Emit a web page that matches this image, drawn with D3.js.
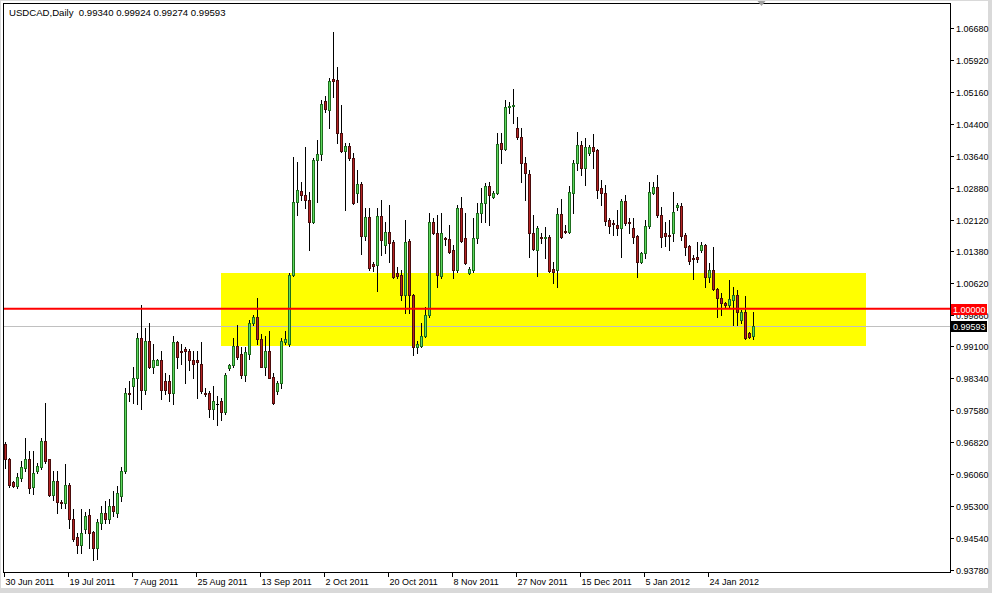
<!DOCTYPE html>
<html><head><meta charset="utf-8">
<script src="https://cdn.jsdelivr.net/npm/d3@7"></script>
<style>
body{margin:0;background:#fff}
svg{display:block}
text{font-family:"Liberation Sans",Arial,sans-serif;font-size:9px;fill:#000}
</style></head>
<body><svg id="chart" width="992" height="593"></svg>
<script>
// ---------------- data ----------------
const symbolTitle = "USDCAD,Daily";
const firstDate = "2011-06-30";
const closedDays = ["2011-12-25", "2012-01-01"];   // Saturdays are also absent
const visibleSlots = 237;                          // bars that fit the window incl. empty future space

const open = [
0.9679,0.9641,0.9588,0.9579,0.9598,0.9621,0.9643,0.9576,0.9614,0.9624,
0.9686,0.9641,0.9557,0.9590,0.9540,0.9538,0.9581,0.9500,0.9457,0.9438,
0.9476,0.9509,0.9469,0.9431,0.9490,0.9514,0.9500,0.9531,0.9514,0.9555,
0.9614,0.9800,0.9817,0.9834,0.9929,0.9807,0.9924,0.9860,0.9867,0.9879,
0.9829,0.9829,0.9800,0.9920,0.9900,0.9903,0.9900,0.9877,0.9879,0.9869,
0.9800,0.9800,0.9762,0.9774,0.9781,0.9753,0.9858,0.9867,0.9910,0.9893,
0.9841,0.9893,0.9965,0.9979,0.9927,0.9862,0.9900,0.9838,0.9805,0.9822,
0.9920,0.9917,1.0079,1.0253,1.0280,1.0270,1.0258,1.0206,1.0354,1.0368,
1.0494,1.0473,1.0547,1.0544,1.0418,1.0375,1.0387,1.0358,1.0275,1.0296,
1.0172,1.0217,1.0106,1.0103,1.0220,1.0151,1.0182,1.0158,1.0084,1.0079,
1.0032,1.0160,1.0032,0.9908,0.9910,0.9934,0.9986,1.0206,1.0180,1.0077,
1.0168,1.0165,1.0139,1.0092,1.0239,1.0168,1.0084,1.0092,1.0168,1.0227,
1.0251,1.0292,1.0265,1.0275,1.0394,1.0380,1.0480,1.0482,1.0431,1.0408,
1.0346,1.0320,1.0180,1.0139,1.0170,1.0168,1.0170,1.0094,1.0092,1.0225,
1.0184,1.0182,1.0275,1.0346,1.0389,1.0334,1.0370,1.0384,1.0377,1.0287,
1.0275,1.0211,1.0203,1.0198,1.0191,1.0256,1.0206,1.0191,1.0172,1.0110,
1.0132,1.0196,1.0275,1.0290,1.0222,1.0180,1.0175,1.0180,1.0241,1.0244,
1.0175,1.0148,1.0120,1.0122,1.0139,1.0151,1.0075,1.0092,1.0046,1.0025,
1.0013,1.0008,1.0020,1.0032,0.9972,0.9993,0.9941,0.99340];

const high = [
0.9683,0.9645,0.9590,0.9610,0.9638,0.9691,0.9662,0.9662,0.9633,0.9691,
0.9776,0.9643,0.9614,0.9614,0.9545,0.9631,0.9586,0.9524,0.9467,0.9524,
0.9517,0.9524,0.9471,0.9500,0.9531,0.9543,0.9548,0.9567,0.9579,0.9624,
0.9812,0.9829,0.9860,0.9941,1.0008,0.9953,0.9967,0.9917,0.9881,0.9900,
0.9848,0.9841,0.9936,0.9924,0.9917,0.9908,0.9905,0.9900,0.9900,0.9920,
0.9812,0.9805,0.9817,0.9793,0.9788,0.9848,0.9869,0.9931,0.9962,0.9908,
0.9908,0.9972,0.9984,1.0025,0.9939,0.9936,0.9948,0.9848,0.9829,0.9929,
0.9948,1.0086,1.0361,1.0349,1.0301,1.0384,1.0277,1.0358,1.0401,1.0496,
1.0506,1.0549,1.0659,1.0575,1.0485,1.0394,1.0394,1.0370,1.0330,1.0301,
1.0239,1.0239,1.0110,1.0239,1.0258,1.0206,1.0246,1.0163,1.0098,1.0092,
1.0211,1.0165,1.0034,0.9924,0.9967,1.0003,1.0227,1.0215,1.0222,1.0227,
1.0170,1.0198,1.0151,1.0246,1.0265,1.0227,1.0098,1.0215,1.0251,1.0287,
1.0298,1.0301,1.0280,1.0418,1.0418,1.0496,1.0492,1.0523,1.0456,1.0431,
1.0361,1.0330,1.0222,1.0196,1.0180,1.0194,1.0175,1.0110,1.0239,1.0260,
1.0198,1.0292,1.0354,1.0420,1.0398,1.0406,1.0389,1.0415,1.0380,1.0306,
1.0294,1.0215,1.0211,1.0234,1.0260,1.0270,1.0215,1.0215,1.0175,1.0134,
1.0211,1.0301,1.0301,1.0318,1.0241,1.0206,1.0211,1.0277,1.0251,1.0251,
1.0180,1.0151,1.0127,1.0158,1.0158,1.0153,1.0108,1.0146,1.0049,1.0037,
1.0015,1.0068,1.0051,1.0044,0.9996,1.0030,0.9944,0.99924];

const low = [
0.9621,0.9576,0.9576,0.9574,0.9590,0.9614,0.9562,0.9560,0.9610,0.9619,
0.9633,0.9555,0.9545,0.9514,0.9526,0.9526,0.9478,0.9448,0.9419,0.9419,
0.9467,0.9431,0.9402,0.9405,0.9476,0.9490,0.9490,0.9507,0.9505,0.9543,
0.9610,0.9781,0.9776,0.9774,0.9762,0.9798,0.9858,0.9846,0.9865,0.9786,
0.9798,0.9781,0.9774,0.9858,0.9869,0.9824,0.9853,0.9834,0.9788,0.9800,
0.9793,0.9741,0.9738,0.9722,0.9734,0.9750,0.9853,0.9860,0.9881,0.9836,
0.9829,0.9881,0.9960,0.9917,0.9860,0.9841,0.9834,0.9774,0.9798,0.9812,
0.9917,0.9912,1.0077,1.0222,1.0258,1.0239,1.0139,1.0203,1.0253,1.0354,
1.0468,1.0431,1.0504,1.0394,1.0372,1.0234,1.0354,1.0249,1.0253,1.0129,
1.0163,1.0092,1.0089,1.0042,1.0127,1.0132,1.0110,1.0072,1.0072,1.0020,
0.9989,0.9989,0.9889,0.9894,0.9908,0.9932,0.9979,1.0177,1.0051,1.0072,
1.0151,1.0132,1.0072,1.0087,1.0158,1.0106,1.0082,1.0087,1.0156,1.0206,
1.0206,1.0198,1.0263,1.0273,1.0346,1.0377,1.0465,1.0442,1.0403,1.0301,
1.0258,1.0122,1.0139,1.0077,1.0156,1.0120,1.0087,1.0061,1.0051,1.0168,
1.0180,1.0180,1.0227,1.0330,1.0318,1.0294,1.0365,1.0334,1.0263,1.0246,
1.0198,1.0180,1.0175,1.0175,1.0122,1.0198,1.0180,1.0156,1.0075,1.0108,
1.0120,1.0191,1.0273,1.0217,1.0146,1.0148,1.0139,1.0160,1.0234,1.0163,
1.0127,1.0106,1.0070,1.0110,1.0134,1.0051,1.0063,1.0044,0.9979,0.9984,
1.0001,1.0003,0.9960,0.9960,0.9967,0.9927,0.9929,0.99274];

const close = [
0.9641,0.9581,0.9579,0.9600,0.9624,0.9643,0.9574,0.9610,0.9626,0.9686,
0.9638,0.9557,0.9590,0.9540,0.9538,0.9581,0.9500,0.9452,0.9438,0.9467,
0.9507,0.9467,0.9431,0.9493,0.9514,0.9500,0.9531,0.9519,0.9562,0.9614,
0.9800,0.9796,0.9834,0.9929,0.9807,0.9924,0.9860,0.9879,0.9879,0.9807,
0.9807,0.9800,0.9920,0.9884,0.9898,0.9900,0.9877,0.9869,0.9872,0.9805,
0.9796,0.9762,0.9781,0.9772,0.9755,0.9843,0.9867,0.9910,0.9886,0.9841,
0.9896,0.9965,0.9979,0.9927,0.9862,0.9900,0.9836,0.9776,0.9822,0.9922,
0.9927,1.0079,1.0253,1.0282,1.0270,1.0258,1.0206,1.0354,1.0368,1.0487,
1.0475,1.0542,1.0542,1.0418,1.0375,1.0387,1.0358,1.0251,1.0296,1.0172,
1.0217,1.0096,1.0101,1.0220,1.0163,1.0182,1.0156,1.0075,1.0077,1.0032,
1.0158,1.0032,0.9908,0.9915,0.9934,0.9986,1.0206,1.0180,1.0079,1.0180,
1.0165,1.0134,1.0092,1.0239,1.0160,1.0108,1.0094,1.0168,1.0227,1.0251,
1.0292,1.0270,1.0275,1.0391,1.0380,1.0480,1.0482,1.0485,1.0408,1.0346,
1.0322,1.0180,1.0141,1.0191,1.0168,1.0170,1.0089,1.0087,1.0225,1.0170,
1.0182,1.0277,1.0346,1.0389,1.0334,1.0384,1.0384,1.0375,1.0282,1.0275,
1.0208,1.0196,1.0201,1.0191,1.0256,1.0203,1.0203,1.0170,1.0110,1.0132,
1.0196,1.0277,1.0290,1.0222,1.0170,1.0172,1.0172,1.0229,1.0246,1.0172,
1.0146,1.0113,1.0118,1.0118,1.0151,1.0075,1.0092,1.0046,1.0025,1.0013,
1.0008,1.0022,1.0032,0.9991,0.9993,0.9929,0.9932,0.99593];

const priceTicks = [1.06680,1.05920,1.05160,1.04400,1.03640,1.02880,1.02120,1.01380,1.00620,
                    0.99860,0.99100,0.98340,0.97580,0.96820,0.96060,0.95300,0.94540,0.93780];
const dateTickLabels = ["30 Jun 2011","19 Jul 2011","7 Aug 2011","25 Aug 2011","13 Sep 2011","2 Oct 2011",
                        "20 Oct 2011","8 Nov 2011","27 Nov 2011","15 Dec 2011","5 Jan 2012","24 Jan 2012"];
const zoneDates = ["2011-09-01", "2012-03-09"];
const zonePrices = [1.0086, 0.9912];
const levelPrice = 1.00000;

// ---------------- build ----------------
const fmtKey = d3.timeFormat("%Y-%m-%d");
const fmtLabel = d3.timeFormat("%-d %b %Y");
const parseKey = d3.timeParse("%Y-%m-%d");
const dates = [];
for (let d = parseKey(firstDate); dates.length < visibleSlots; d = d3.timeDay.offset(d, 1)) {
  if (d.getDay() === 6 || closedDays.includes(fmtKey(d))) continue;
  dates.push(fmtKey(d));
}
const bars = open.map((o, i) => ({date: dates[i], o, h: high[i], l: low[i], c: close[i]}));
const last = bars[bars.length - 1];

const W = 992, H = 593;
const plot = {x0: 3.5, y0: 3.5, x1: 950.5, y1: 572.5};

const x = d3.scalePoint().domain(dates).range([5.5, 5.5 + 4 * (dates.length - 1)]);
const y = d3.scaleLinear().domain([0.9378, 1.0668]).range([570, 28]);
const snap = v => Math.round(v) + 0.5;

const svg = d3.select("#chart");
// window frame
svg.append("rect").attr("width", W).attr("height", H).attr("fill", "#d9d9d9");
svg.append("rect").attr("x", 1).attr("y", 1).attr("width", 987).attr("height", 587).attr("fill", "#fff");

const defs = svg.append("defs");
defs.append("clipPath").attr("id", "clip").append("rect")
  .attr("x", plot.x0).attr("y", plot.y0).attr("width", plot.x1 - plot.x0).attr("height", plot.y1 - plot.y0);

const g = svg.append("g").attr("clip-path", "url(#clip)");

// support/resistance zone
g.append("rect")
  .attr("x", x(zoneDates[0]) - 0.5).attr("y", Math.round(y(zonePrices[0])))
  .attr("width", x(zoneDates[1]) - x(zoneDates[0]) + 1)
  .attr("height", Math.round(y(zonePrices[1])) - Math.round(y(zonePrices[0])))
  .attr("fill", "#ffff00");

// bid line
g.append("line").attr("x1", plot.x0).attr("x2", plot.x1)
  .attr("y1", snap(y(last.c))).attr("y2", snap(y(last.c)))
  .attr("stroke", "#c0c0c0").attr("stroke-width", 1);

// candles
const style = {
  up:   {fill: "#5ed85e", edge: "#1e6e1e"},
  down: {fill: "#b52424", edge: "#4a0c0c"}
};
const cg = g.append("g");
bars.forEach(b => {
  const cx = x(b.date);
  cg.append("line").attr("x1", cx).attr("x2", cx)
    .attr("y1", snap(y(b.h)) - 0.5).attr("y2", snap(y(b.l)) + 0.5)
    .attr("stroke", "#000").attr("stroke-width", 1);
  const top = Math.round(y(Math.max(b.o, b.c)));
  const bot = Math.round(y(Math.min(b.o, b.c)));
  if (bot - top < 1) {
    cg.append("line").attr("x1", cx - 1.5).attr("x2", cx + 1.5)
      .attr("y1", top + 0.5).attr("y2", top + 0.5).attr("stroke", "#000");
  } else {
    const s = b.c >= b.o ? style.up : style.down;
    cg.append("rect").attr("x", cx - 1).attr("y", top + 0.5)
      .attr("width", 2).attr("height", bot - top)
      .attr("fill", s.fill).attr("stroke", s.edge).attr("stroke-width", 1);
  }
});

// horizontal level
g.append("line").attr("x1", plot.x0).attr("x2", plot.x1)
  .attr("y1", y(levelPrice)).attr("y2", y(levelPrice))
  .attr("stroke", "#ff0000").attr("stroke-width", 2);

// plot frame
svg.append("rect").attr("x", plot.x0).attr("y", plot.y0)
  .attr("width", plot.x1 - plot.x0).attr("height", plot.y1 - plot.y0)
  .attr("fill", "none").attr("stroke", "#000");

// chart shift marker
const sx = x(dates[bars.length + 1]);
svg.append("path").attr("d", `M${sx - 4},1 L${sx + 4},1 L${sx},6 Z`).attr("fill", "#a0a0a0");

// right price axis
const ya = svg.append("g");
priceTicks.forEach(v => {
  const yy = snap(y(v));
  ya.append("line").attr("x1", 951).attr("x2", 954).attr("y1", yy).attr("y2", yy).attr("stroke", "#000");
  ya.append("text").attr("x", 956).attr("y", yy).attr("dy", "0.35em").text(v.toFixed(5));
});
function priceTag(v, bg) {
  const yy = Math.round(y(v));
  ya.append("rect").attr("x", 951).attr("y", yy - 5).attr("width", 36).attr("height", 11).attr("fill", bg);
  ya.append("text").attr("x", 953).attr("y", yy + 0.5).attr("dy", "0.35em")
    .style("fill", "#fff").text(v.toFixed(5));
}
priceTag(levelPrice, "#ff0000");
priceTag(last.c, "#000");

// bottom date axis
const xa = svg.append("g");
dates.forEach(d => {
  const lbl = fmtLabel(parseKey(d));
  if (!dateTickLabels.includes(lbl)) return;
  const tx = Math.round(x(d) - 1.5) + 0.5;
  xa.append("line").attr("x1", tx).attr("x2", tx).attr("y1", 573).attr("y2", 577).attr("stroke", "#000");
  xa.append("text").attr("x", tx + 1).attr("y", 585).text(lbl);
});

// title
svg.append("text").attr("x", 9).attr("y", 16).style("font-size", "9.6px")
  .text(`${symbolTitle}  ${last.o.toFixed(5)} ${last.h.toFixed(5)} ${last.l.toFixed(5)} ${last.c.toFixed(5)}`)
  .attr("xml:space", "preserve").style("white-space", "pre");
</script>
</body></html>
